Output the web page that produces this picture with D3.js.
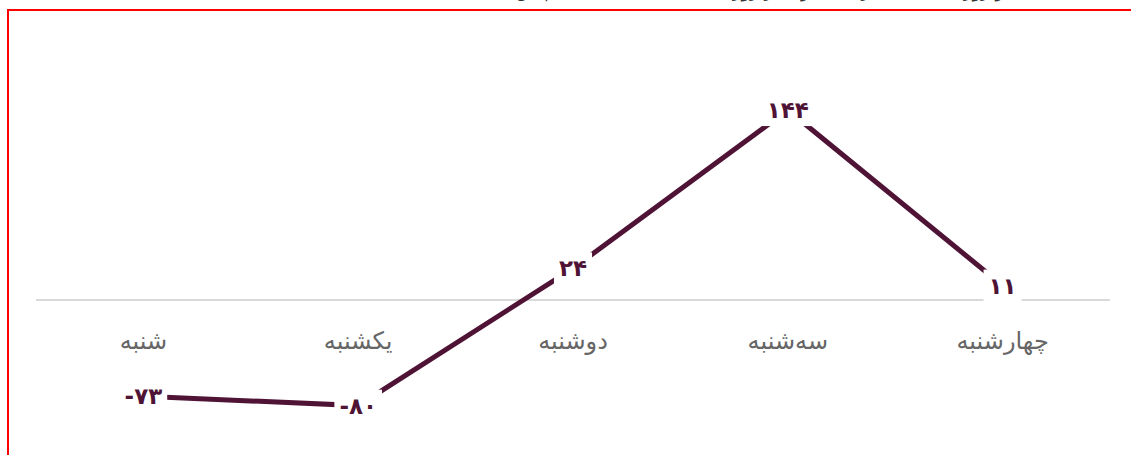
<!DOCTYPE html>
<html>
<head>
<meta charset="utf-8">
<script src="https://cdn.jsdelivr.net/npm/d3@7"></script>
<style>
  html, body { margin: 0; padding: 0; background: #fff; overflow: hidden; }
  svg { display: block; font-family: "DejaVu Sans", sans-serif; }
</style>
</head>
<body>
<div id="chart"></div>
<script>
var width = 1131;
var height = 455;

// data
var days = ["شنبه", "یکشنبه", "دوشنبه", "سه‌شنبه", "چهارشنبه"];
var values = [-73, -80, 24, 144, 11];

var lineColor = "#4f1336";

var svg = d3
  .select("#chart")
  .append("svg")
  .attr("width", width)
  .attr("height", height);

// clipped title at the very top
svg
  .append("text")
  .attr("x", 1030)
  .attr("y", -3)
  .attr("direction", "rtl")
  .attr("text-anchor", "start")
  .attr("font-size", 18)
  .attr("fill", "#333")
  .text("تغییر روزانه تعداد بیماران بستری در روزهای هفته نسبت به هفته پیش");

// red frame
svg
  .append("rect")
  .attr("x", 8)
  .attr("y", 10)
  .attr("width", width)
  .attr("height", height)
  .attr("fill", "none")
  .attr("stroke", "#ff0000")
  .attr("stroke-width", 2);

var x = d3.scaleBand().domain(days).range([36, 1110]);

var y = d3.scaleLinear().domain([-80, 144]).range([405.6, 110]);

var data = days.map(function (d, i) {
  return { day: d, value: values[i] };
});

// zero line
svg
  .append("line")
  .attr("x1", x.range()[0])
  .attr("x2", x.range()[1])
  .attr("y1", y(0))
  .attr("y2", y(0))
  .attr("stroke", "#d9d9d9")
  .attr("stroke-width", 2);

// day labels
svg
  .selectAll(".day")
  .data(days)
  .enter()
  .append("text")
  .attr("class", "day")
  .attr("x", function (d) { return x(d) + x.bandwidth() / 2; })
  .attr("y", y(0) + 49)
  .attr("text-anchor", "middle")
  .attr("font-size", 24)
  .attr("fill", "#666")
  .text(function (d) { return d; });

var line = d3
  .line()
  .x(function (d) { return x(d.day) + x.bandwidth() / 2; })
  .y(function (d) { return y(d.value); });

svg
  .append("path")
  .datum(data)
  .attr("d", line)
  .attr("fill", "none")
  .attr("stroke", lineColor)
  .attr("stroke-width", 5);

function faDigits(v) {
  var s = String(Math.abs(v)).replace(/[0-9]/g, function (c) {
    return "۰۱۲۳۴۵۶۷۸۹"[+c];
  });
  return v < 0 ? "-" + s : s;
}

var labels = svg
  .selectAll(".lbl")
  .data(data)
  .enter()
  .append("g")
  .attr("class", "lbl")
  .attr("transform", function (d) {
    return "translate(" + (x(d.day) + x.bandwidth() / 2) + "," + y(d.value) + ")";
  });

var bg = labels.append("rect").attr("fill", "#fff");

labels
  .append("text")
  .attr("text-anchor", "middle")
  .attr("dy", "0.35em")
  .attr("direction", "ltr")
  .attr("font-size", 23)
  .attr("font-weight", "bold")
  .attr("fill", lineColor)
  .text(function (d) { return faDigits(d.value); });

labels.each(function () {
  var g = d3.select(this);
  var b = g.select("text").node().getBBox();
  g.select("rect")
    .attr("x", b.x - 5)
    .attr("y", b.y - 3)
    .attr("width", b.width + 10)
    .attr("height", b.height + 6);
});
</script>
</body>
</html>
